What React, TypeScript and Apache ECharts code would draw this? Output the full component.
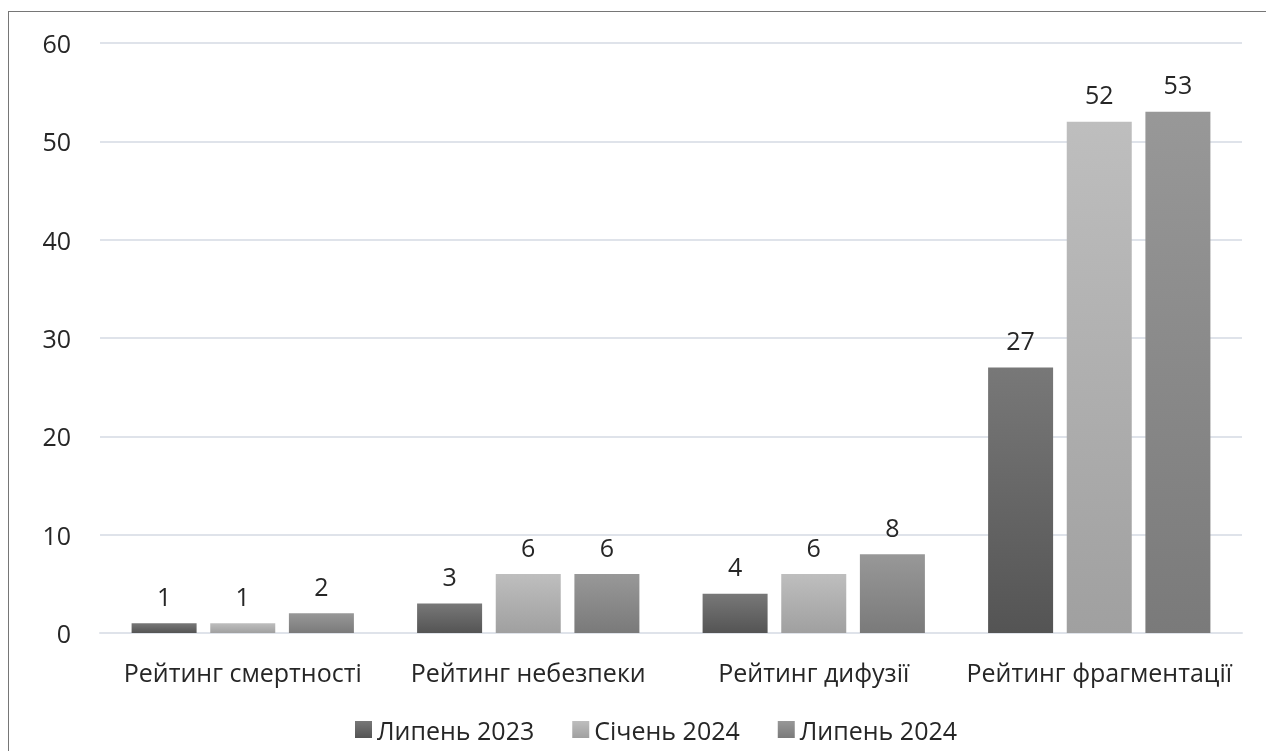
import React, { useEffect, useRef } from "react";
import * as echarts from "echarts";

const categories = [
  "Рейтинг смертності",
  "Рейтинг небезпеки",
  "Рейтинг дифузії",
  "Рейтинг фрагментації",
];
const seriesNames = ["Липень 2023", "Січень 2024", "Липень 2024"];
const july2023 = [1, 3, 4, 27];
const jan2024 = [1, 6, 6, 52];
const july2024 = [2, 6, 8, 53];
const yTicks = { min: 0, max: 60, interval: 10 };

const gradients = [
  ["#787878", "#545454"],
  ["#bebebe", "#a0a0a0"],
  ["#989898", "#7a7a7a"],
];

const FONT = "'Open Sans', sans-serif";
const TEXT = "#262626";

export default function App() {
  const ref = useRef<HTMLDivElement>(null);
  useEffect(() => {
    if (!ref.current) return;
    const chart = echarts.init(ref.current, undefined, { renderer: "svg" });
    const values = [july2023, jan2024, july2024];
    chart.setOption({
      animation: false,
      textStyle: { fontFamily: FONT },
      grid: { left: 91, right: 24, top: 31, bottom: 118 },
      legend: {
        data: seriesNames,
        top: 700,
        left: 341,
        itemWidth: 17,
        itemHeight: 17,
        itemGap: 38,
        icon: "rect",
        textStyle: { fontFamily: FONT, fontSize: 25, color: TEXT },
      },
      xAxis: {
        type: "category",
        data: categories,
        axisLine: { show: true, lineStyle: { color: "#dfe3ea", width: 2 } },
        axisTick: { show: false },
        axisLabel: { interval: 0, fontFamily: FONT, fontSize: 25, color: TEXT, margin: 26 },
      },
      yAxis: {
        type: "value",
        min: yTicks.min,
        max: yTicks.max,
        interval: yTicks.interval,
        axisLine: { show: false },
        axisTick: { show: false },
        splitLine: { lineStyle: { color: "#dfe3ea", width: 2 } },
        axisLabel: { fontFamily: FONT, fontSize: 25, color: TEXT, margin: 29 },
      },
      series: seriesNames.map((name, i) => ({
        name,
        type: "bar",
        data: values[i],
        barWidth: 65,
        barGap: "21%",
        itemStyle: {
          color: new echarts.graphic.LinearGradient(0, 0, 0, 1, [
            { offset: 0, color: gradients[i][0] },
            { offset: 1, color: gradients[i][1] },
          ]),
        },
        label: {
          show: true,
          position: "top",
          distance: 15,
          fontFamily: FONT,
          fontSize: 25,
          color: TEXT,
        },
      })),
    });
    return () => chart.dispose();
  }, []);
  return (
    <div
      style={{
        position: "fixed",
        left: 8,
        top: 11,
        width: 1258,
        height: 740,
        borderLeft: "1px solid #767676",
        borderTop: "1px solid #767676",
        boxSizing: "border-box",
        overflow: "hidden",
      }}
    >
      <div ref={ref} style={{ width: 1257, height: 739 }} />
    </div>
  );
}
